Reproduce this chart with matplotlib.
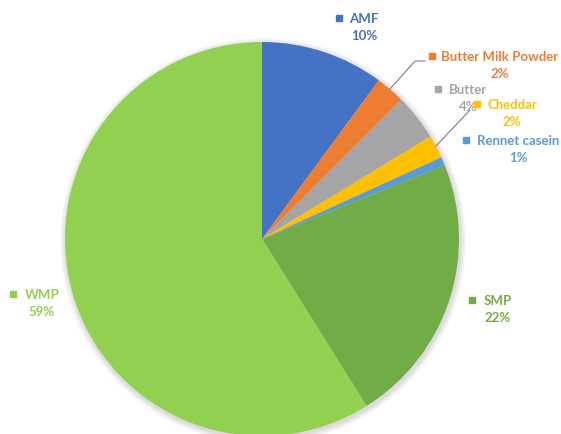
import numpy as np
import matplotlib.pyplot as plt
from matplotlib.patches import Circle

# --- data ---
labels = ["AMF", "Butter Milk Powder", "Butter", "Cheddar", "Rennet casein", "SMP", "WMP"]
values = [10.1, 2.4, 3.8, 1.9, 0.7, 22.2, 58.9]
colors = ["#4472C4", "#ED7D31", "#A5A5A5", "#FFC000", "#5B9BD5", "#70AD47", "#92D050"]

W, H = 561, 435
CX, CY, R = 262, H - 240, 197

fig = plt.figure(figsize=(W / 100, H / 100), dpi=100)
ax = fig.add_axes([0, 0, 1, 1])

# soft shadow
for k in range(6):
    ax.add_patch(Circle((CX + 1, CY - 2), R + 1 + k, color="black",
                        alpha=0.025, lw=0, zorder=0))

wedges, _ = ax.pie(values, colors=colors, startangle=90, counterclock=False,
                   radius=R, center=(CX, CY), frame=True,
                   wedgeprops=dict(linewidth=0))
ax.set_xlim(0, W); ax.set_ylim(0, H)
ax.set_aspect("equal"); ax.axis("off")

# label layout: (square x, name center x, line y) in pixel coords from top
pos = [
    (339, 364, 19),
    (432, 500, 57),
    (438, 468, 90),
    (477, 512, 105),
    (466, 518, 141),
    (472, 498, 301),
    (13, 42, 295),
]
font = dict(family=["Lato", "DejaVu Sans"], fontsize=9.5, fontweight="bold")
for lab, v, c, (sx, tx, ty) in zip(labels, values, colors, pos):
    ax.plot(sx, H - ty, "s", color=c, ms=5, zorder=5)
    ax.text(tx, H - ty, lab, color=c, ha="center", va="center", zorder=5, **font)
    ax.text(tx, H - ty - 17, f"{v:.0f}%", color=c, ha="center", va="center",
            zorder=5, **font)

# leader lines
ax.plot([390, 415, 425], [H - 90, H - 62, H - 62], color="#7F7F7F", lw=0.8, zorder=4)
ax.plot([436, 470], [H - 147, H - 111], color="#7F7F7F", lw=0.8, zorder=4)

fig.savefig("out.png", dpi=100)
plt.close(fig)
